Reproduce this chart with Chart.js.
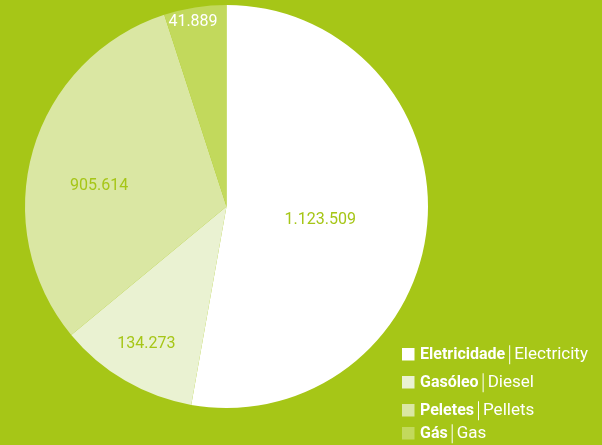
<!DOCTYPE html>
<html>
<head>
<meta charset="utf-8">
<script src="https://cdn.jsdelivr.net/npm/chart.js@4/dist/chart.umd.min.js"></script>
<style>
  html, body { margin: 0; padding: 0; background: #a6c617; }
  #wrap { width: 602px; height: 445px; }
</style>
</head>
<body>
<div id="wrap"><canvas id="energyChart" width="602" height="445"></canvas></div>
<script>
const categoriesPt = ['Eletricidade', 'Gasóleo', 'Peletes', 'Gás'];
const categoriesEn = ['Electricity', 'Diesel', 'Pellets', 'Gas'];
const consumption = [1123509, 134273, 905614, 41889];
// slice sizes as drawn in the picture (% of the circle)
const sliceShares = [52.8, 11.2, 31.0, 5.0];

const BG = '#a6c617';
const sliceColors = ['#ffffff', '#eaf2d2', '#dae7a3', '#c2d95c'];
const labelColors = [BG, BG, BG, '#ffffff'];
const FONT = 'Roboto, "DejaVu Sans", sans-serif';

function fmt(n) {
  return String(n).replace(/\B(?=(\d{3})+(?!\d))/g, '.');
}

const sliceLabels = {
  id: 'sliceLabels',
  afterDatasetsDraw(chart) {
    const ctx = chart.ctx;
    const radial = [0.47, 0.79, 0.64, 0.93];
    const nudge = [3, 0, -7, -1.3];
    chart.getDatasetMeta(0).data.forEach((arc, i) => {
      const p = arc.getProps(['x', 'y', 'startAngle', 'endAngle', 'outerRadius'], true);
      const a = (p.startAngle + p.endAngle) / 2 + nudge[i] * Math.PI / 180;
      const r = p.outerRadius * radial[i];
      ctx.save();
      ctx.font = '16px ' + FONT;
      ctx.fillStyle = labelColors[i];
      ctx.textAlign = 'center';
      ctx.textBaseline = 'middle';
      ctx.fillText(fmt(consumption[i]), p.x + Math.cos(a) * r, p.y + Math.sin(a) * r);
      ctx.restore();
    });
  }
};

const sideLegend = {
  id: 'sideLegend',
  afterDraw(chart) {
    const ctx = chart.ctx;
    const rowTops = [348, 376, 404, 427];
    const left = 402, box = 12.5;
    ctx.save();
    ctx.textBaseline = 'middle';
    categoriesPt.forEach((pt, i) => {
      const cy = rowTops[i] + box / 2;
      ctx.fillStyle = sliceColors[i];
      ctx.fillRect(left, rowTops[i], box, box);
      let x = left + 18;
      ctx.fillStyle = '#ffffff';
      ctx.font = 'bold 16px ' + FONT;
      ctx.fillText(pt, x, cy + 0.5);
      x += ctx.measureText(pt).width + 4;
      ctx.fillRect(x, cy - 9, 1, 19);
      x += 5;
      ctx.font = '17px ' + FONT;
      ctx.fillText(categoriesEn[i], x, cy + 0.5);
    });
    ctx.restore();
  }
};

new Chart(document.getElementById('energyChart'), {
  type: 'pie',
  data: {
    labels: categoriesPt,
    datasets: [{
      data: sliceShares,
      backgroundColor: sliceColors,
      borderWidth: 0
    }]
  },
  options: {
    responsive: false,
    animation: false,
    layout: { padding: { left: 25, right: 174, top: 5, bottom: 37 } },
    plugins: {
      legend: { display: false },
      tooltip: { enabled: false }
    }
  },
  plugins: [sliceLabels, sideLegend]
});
</script>
</body>
</html>
